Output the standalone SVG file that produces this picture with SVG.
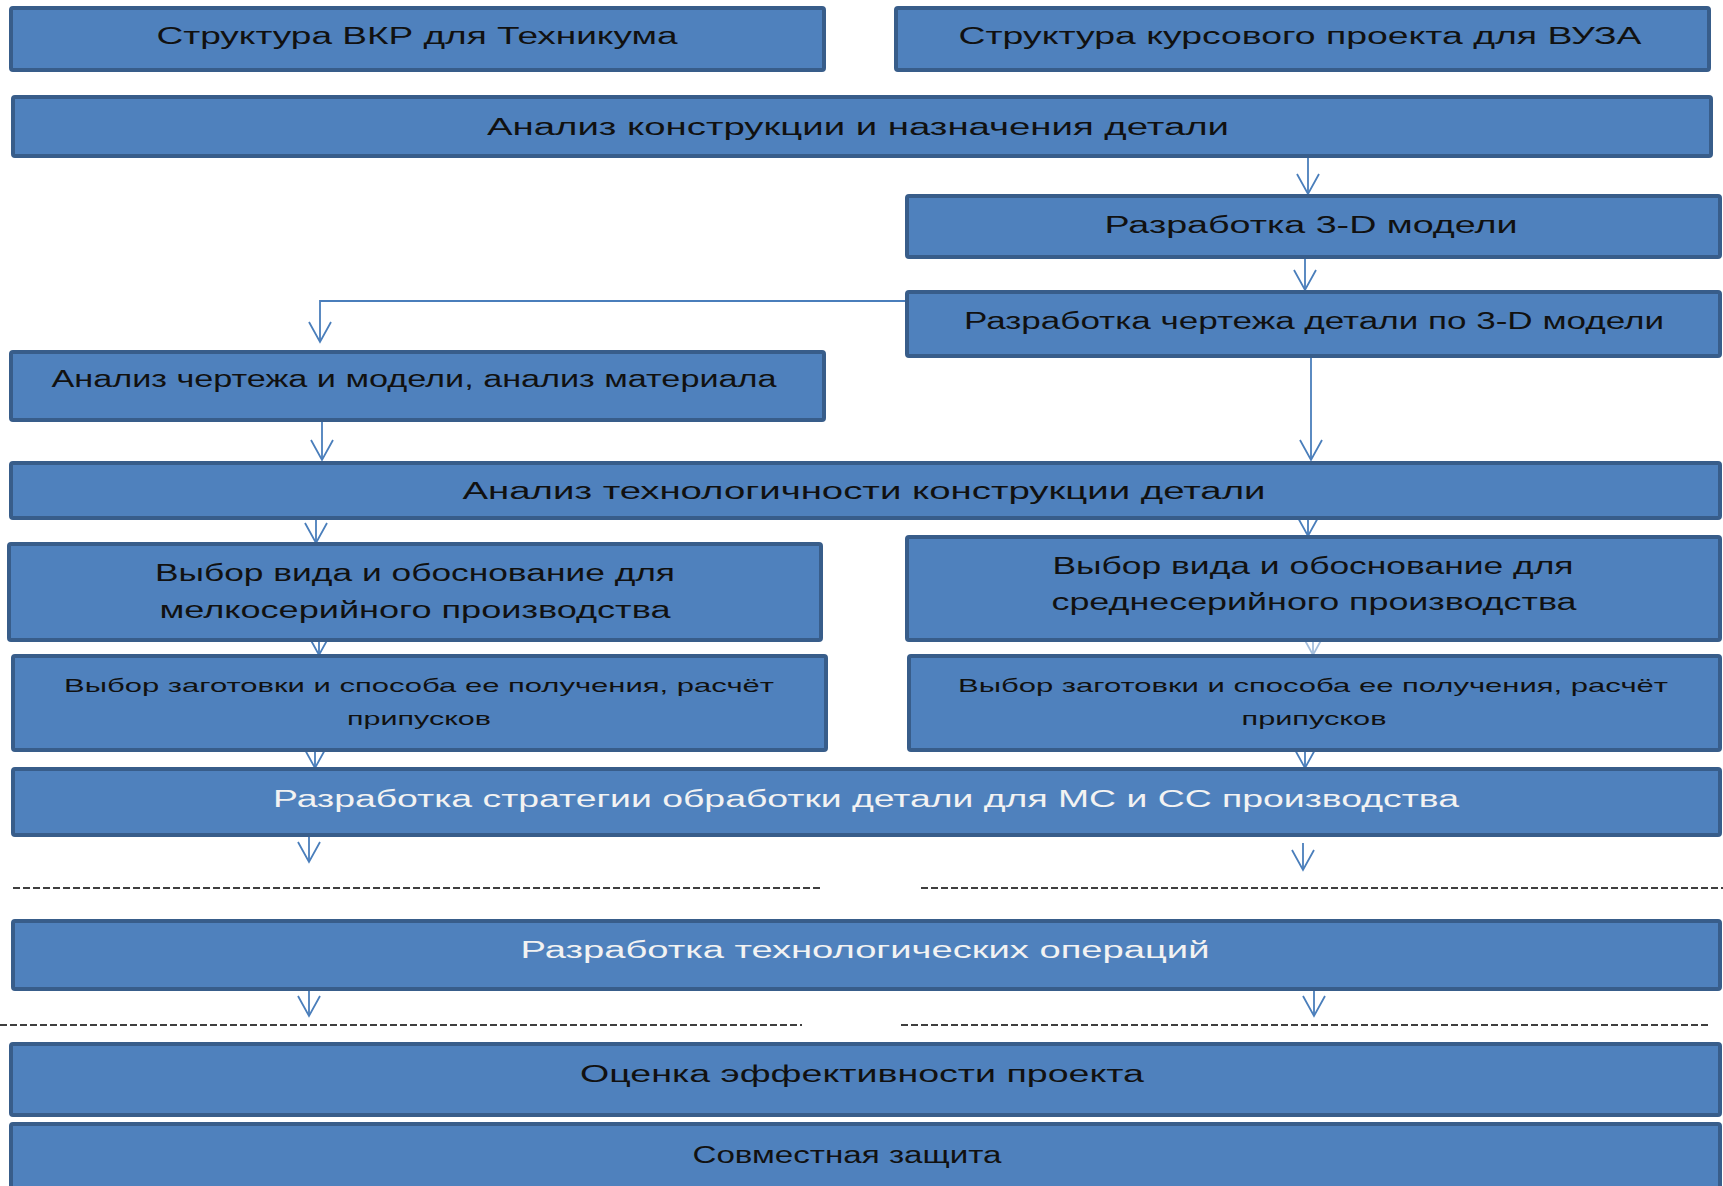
<svg xmlns="http://www.w3.org/2000/svg" width="1723" height="1186" viewBox="0 0 1723 1186">
<style>
.box{fill:#4f81bd;stroke:#385d8a;stroke-width:4}
.t{font-family:"Liberation Sans",Arial,sans-serif;font-size:23px;fill:#111;text-anchor:middle}
.s{font-size:19px}
.w{fill:#f2f2f2}
.c{fill:none;stroke:#4a7ebb;stroke-width:1.8}
.d{fill:none;stroke:#000;stroke-width:1.5;stroke-dasharray:7 3}
</style>
<defs>
<marker id="ar" markerWidth="24" markerHeight="26" refX="21" refY="12" orient="auto" markerUnits="userSpaceOnUse" viewBox="0 0 24 24">
<path d="M1 1 L21 12 L1 23" fill="none" stroke="#4a7ebb" stroke-width="1.8"/>
</marker>
</defs>
<rect width="1723" height="1186" fill="#fff"/>
<g id="connectors">
<line class="c" x1="1308" y1="156" x2="1308" y2="194" marker-end="url(#ar)"/>
<line class="c" x1="1305" y1="257" x2="1305" y2="290" marker-end="url(#ar)"/>
<polyline class="c" points="907,301 320,301 320,342" marker-end="url(#ar)"/>
<line class="c" x1="322" y1="420" x2="322" y2="460" marker-end="url(#ar)"/>
<line class="c" x1="1311" y1="356" x2="1311" y2="460" marker-end="url(#ar)"/>
<line class="c" x1="316" y1="518" x2="316" y2="543" marker-end="url(#ar)"/>
<line class="c" x1="1308" y1="518" x2="1308" y2="536" marker-end="url(#ar)"/>
<line class="c" x1="319" y1="640" x2="319" y2="655" marker-end="url(#ar)"/>
<line class="c" x1="1313" y1="640" x2="1313" y2="655" marker-end="url(#ar)" opacity="0.5"/>
<line class="c" x1="315" y1="750" x2="315" y2="768" marker-end="url(#ar)"/>
<line class="c" x1="1305" y1="750" x2="1305" y2="768" marker-end="url(#ar)"/>
<line class="c" x1="309" y1="836" x2="309" y2="862" marker-end="url(#ar)"/>
<line class="c" x1="1303" y1="843" x2="1303" y2="870" marker-end="url(#ar)"/>
<line class="c" x1="309" y1="990" x2="309" y2="1016" marker-end="url(#ar)"/>
<line class="c" x1="1314" y1="990" x2="1314" y2="1016" marker-end="url(#ar)"/>
<line class="d" x1="13" y1="888" x2="822" y2="888"/>
<line class="d" x1="921" y1="888" x2="1723" y2="888"/>
<line class="d" x1="0" y1="1025" x2="802" y2="1025"/>
<line class="d" x1="901" y1="1025" x2="1709" y2="1025"/>
</g>
<g id="nA"><rect class="box" x="11" y="8" width="813" height="62" rx="2"/><text class="t" x="417" y="44" textLength="521" lengthAdjust="spacingAndGlyphs">Структура ВКР для Техникума</text></g>
<g id="nB"><rect class="box" x="896" y="8" width="813" height="62" rx="2"/><text class="t" x="1300" y="44" textLength="683" lengthAdjust="spacingAndGlyphs">Структура курсового проекта для ВУЗА</text></g>
<g id="nC"><rect class="box" x="13" y="97" width="1698" height="59" rx="2"/><text class="t" x="858" y="135" textLength="742" lengthAdjust="spacingAndGlyphs">Анализ конструкции и назначения детали</text></g>
<g id="nD"><rect class="box" x="907" y="196" width="813" height="61" rx="2"/><text class="t" x="1311" y="233" textLength="413" lengthAdjust="spacingAndGlyphs">Разработка 3-D модели</text></g>
<g id="nE"><rect class="box" x="907" y="292" width="813" height="64" rx="2"/><text class="t" x="1314" y="329" textLength="700" lengthAdjust="spacingAndGlyphs">Разработка чертежа детали по 3-D модели</text></g>
<g id="nF"><rect class="box" x="11" y="352" width="813" height="68" rx="2"/><text class="t" x="414" y="387" textLength="725" lengthAdjust="spacingAndGlyphs">Анализ чертежа и модели, анализ материала</text></g>
<g id="nG"><rect class="box" x="11" y="463" width="1709" height="55" rx="2"/><text class="t" x="864" y="499" textLength="803" lengthAdjust="spacingAndGlyphs">Анализ технологичности конструкции детали</text></g>
<g id="nH"><rect class="box" x="9" y="544" width="812" height="96" rx="2"/><text class="t" x="415" y="581" textLength="520" lengthAdjust="spacingAndGlyphs">Выбор вида и обоснование для</text><text class="t" x="415" y="618" textLength="511" lengthAdjust="spacingAndGlyphs">мелкосерийного производства</text></g>
<g id="nI"><rect class="box" x="907" y="537" width="813" height="103" rx="2"/><text class="t" x="1313" y="574" textLength="521" lengthAdjust="spacingAndGlyphs">Выбор вида и обоснование для</text><text class="t" x="1314" y="610" textLength="525" lengthAdjust="spacingAndGlyphs">среднесерийного производства</text></g>
<g id="nJ"><rect class="box" x="13" y="656" width="813" height="94" rx="2"/><text class="t s" x="419" y="692" textLength="710" lengthAdjust="spacingAndGlyphs">Выбор заготовки и способа ее получения, расчёт</text><text class="t s" x="419" y="725" textLength="144" lengthAdjust="spacingAndGlyphs">припусков</text></g>
<g id="nK"><rect class="box" x="909" y="656" width="811" height="94" rx="2"/><text class="t s" x="1313" y="692" textLength="710" lengthAdjust="spacingAndGlyphs">Выбор заготовки и способа ее получения, расчёт</text><text class="t s" x="1314" y="725" textLength="145" lengthAdjust="spacingAndGlyphs">припусков</text></g>
<g id="nL"><rect class="box" x="13" y="769" width="1707" height="66" rx="2"/><text class="t w" x="866" y="807" textLength="1186" lengthAdjust="spacingAndGlyphs">Разработка стратегии обработки детали для МС и СС производства</text></g>
<g id="nM"><rect class="box" x="13" y="921" width="1707" height="68" rx="2"/><text class="t w" x="865" y="958" textLength="689" lengthAdjust="spacingAndGlyphs">Разработка технологических операций</text></g>
<g id="nN"><rect class="box" x="11" y="1044" width="1709" height="71" rx="2"/><text class="t" x="862" y="1082" textLength="564" lengthAdjust="spacingAndGlyphs">Оценка эффективности проекта</text></g>
<g id="nO"><rect class="box" x="11" y="1124" width="1709" height="80" rx="2"/><text class="t" x="847" y="1163" textLength="309" lengthAdjust="spacingAndGlyphs">Совместная защита</text></g>
</svg>
